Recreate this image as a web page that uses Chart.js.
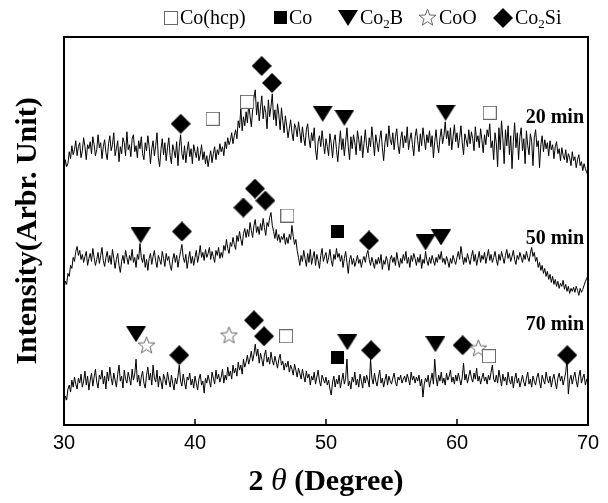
<!DOCTYPE html>
<html>
<head>
<meta charset="utf-8">
<script src="https://cdn.jsdelivr.net/npm/chart.js@4.4.1/dist/chart.umd.min.js"></script>
<style>
  html, body { margin: 0; padding: 0; background: #fff; }
  #wrap { position: relative; width: 608px; height: 503px; }
  .item { position: absolute; top: 6px; display: flex; align-items: center; font: 20px "Liberation Serif", serif; color: #000; white-space: nowrap; }
  .item img { margin-right: 2px; }
  .item sub { font-size: 13px; vertical-align: -4px; line-height: 0; }
</style>
</head>
<body>
<div id="wrap">
  <canvas id="xrd-chart" width="608" height="503"></canvas>
  <div id="legend"></div>
</div>
<script>
const twoThetaStart = 30;
const twoThetaStep = 0.1;

// 20 min, 30.0 .. 70.0 deg, one degree per row
const intensity20 = [
  253, 266, 259, 262, 274, 267, 280, 271, 276, 285,
  270, 279, 283, 268, 275, 288, 279, 266, 281, 277,
  284, 272, 289, 281, 270, 276, 291, 278, 283, 267,
  279, 286, 273, 266, 282, 290, 275, 281, 293, 270,
  277, 285, 264, 279, 272, 288, 283, 270, 294, 276,
  281, 269, 287, 291, 274, 280, 268, 285, 277, 289,
  272, 266, 283, 275, 290, 279, 262, 277, 285, 270,
  280, 293, 268, 259, 276, 287, 271, 283, 265, 278,
  288, 270, 262, 281, 275, 268, 284, 260, 279, 291,
  272, 266, 280, 263, 275, 284, 269, 277, 262, 281,
  274, 268, 279, 265, 271, 281, 266, 274, 262, 270,
  259, 268, 275, 263, 272, 279, 266, 276, 271, 282,
  274, 279, 270, 284, 277, 288, 281, 285, 293, 282,
  290, 296, 287, 305, 298, 318, 295, 309, 300, 314,
  303, 322, 310, 299, 316, 328, 336, 311, 324, 305,
  318, 330, 307, 320, 313, 297, 326, 309, 319, 332,
  306, 316, 300, 322, 311, 296, 318, 305, 293, 310,
  300, 288, 297, 306, 293, 285, 302, 298, 289, 304,
  294, 283, 299, 288, 280, 296, 302, 287, 278, 293,
  285, 298, 276, 266, 284, 290, 279, 295, 283, 272,
  287, 279, 270, 292, 282, 268, 285, 291, 276, 264,
  281, 295, 276, 287, 270, 284, 298, 279, 266, 289,
  277, 291, 283, 271, 295, 286, 275, 290, 268, 282,
  296, 280, 273, 288, 279, 299, 285, 270, 291, 283,
  274, 287, 295, 278, 265, 283, 292, 279, 300, 286,
  281, 293, 276, 289, 297, 280, 272, 287, 294, 278,
  290, 283, 299, 276, 286, 293, 281, 270, 289, 297,
  285, 274, 292, 280, 298, 287, 276, 291, 283, 295,
  279, 290, 268, 284, 296, 281, 273, 288, 297, 282,
  290, 304, 287, 295, 280, 298, 276, 289, 301, 284,
  293, 278, 288, 300, 283, 271, 292, 286, 279, 296,
  282, 294, 287, 275, 299, 284, 290, 278, 297, 286,
  273, 291, 281, 296, 289, 302, 278, 285, 266, 293,
  283, 259, 298, 276, 305, 287, 262, 296, 280, 300,
  271, 290, 257, 284, 303, 278, 293, 266, 289, 298,
  275, 287, 262, 295, 280, 271, 292, 284, 260, 288,
  296, 279, 285, 258, 281, 290, 274, 286, 277, 283,
  270, 285, 276, 281, 267, 279, 284, 272, 277, 265,
  278, 270, 266, 276, 263, 272, 268, 260, 274, 265,
  269, 258, 266, 271, 260, 264, 255, 262, 257, 253,
  250
];

// 50 min
const intensity50 = [
  136, 144, 141, 152, 149, 160, 157, 168, 164, 174,
  179, 170, 175, 166, 171, 163, 169, 174, 160, 167,
  172, 164, 177, 168, 160, 166, 173, 162, 170, 178,
  165, 159, 168, 174, 163, 170, 161, 176, 167, 157,
  166, 172, 160, 153, 164, 170, 162, 175, 168, 161,
  170, 165, 176, 163, 168, 158, 171, 166, 182, 168,
  163, 171, 158, 166, 155, 167, 172, 161, 169, 175,
  164, 158, 170, 166, 161, 174, 167, 159, 172, 165,
  169, 160, 155, 166, 172, 163, 170, 158, 167, 174,
  181, 168, 163, 171, 157, 166, 174, 162, 169, 160,
  168, 175, 163, 170, 180, 168, 173, 165, 176, 168,
  172, 178, 166, 174, 169, 163, 175, 170, 178, 167,
  173, 168, 180, 175, 186, 177, 172, 183, 179, 188,
  181, 176, 190, 184, 194, 186, 180, 192, 197, 188,
  196, 189, 203, 195, 188, 200, 206, 193, 199, 191,
  202, 195, 207, 198, 190, 203, 199, 208, 213, 200,
  194, 187, 196, 185, 191, 183, 189, 186, 192, 181,
  188, 182, 191, 186, 200, 189, 181, 186, 175, 168,
  160, 170, 164, 175, 167, 159, 172, 163, 176, 161,
  168, 174, 160, 171, 165, 157, 170, 177, 164, 169,
  173, 162, 168, 176, 165, 159, 171, 166, 177, 168,
  172, 164, 170, 158, 167, 174, 163, 152, 166, 170,
  161, 167, 159, 164, 170, 162, 166, 158, 165, 169,
  163, 171, 175, 166, 160, 168, 163, 157, 166, 161,
  168, 162, 171, 156, 165, 161, 169, 164, 155, 166,
  170, 163, 168, 160, 173, 165, 158, 167, 162, 171,
  165, 174, 162, 168, 158, 170, 164, 172, 167, 160,
  168, 163, 171, 157, 166, 162, 174, 165, 160, 168,
  162, 170, 165, 160, 168, 163, 171, 166, 174, 163,
  167, 161, 169, 164, 158, 167, 162, 170, 165, 161,
  168, 174, 166, 179, 170, 161, 168, 163, 172, 166,
  161, 169, 175, 164, 171, 160, 167, 174, 163, 170,
  166, 173, 162, 169, 176, 165, 171, 163, 168, 174,
  166, 160, 171, 165, 174, 168, 162, 170, 176, 167,
  172, 164, 169, 175, 166, 161, 170, 166, 173, 168,
  163, 171, 166, 174, 168, 164, 172, 178, 169, 173,
  164, 168, 158, 163, 155, 160, 152, 157, 149, 154,
  146, 151, 143, 149, 141, 146, 139, 144, 137, 142,
  139, 145, 136, 141, 134, 139, 132, 137, 134, 138,
  133, 139, 135, 130, 137, 133, 136, 140, 144, 147,
  150
];

// 70 min
const intensity70 = [
  20, 29, 25, 36, 40, 33, 45, 38, 48, 41,
  36, 47, 42, 51, 38, 44, 54, 40, 49, 35,
  45, 52, 39, 48, 56, 43, 37, 50, 46, 55,
  41, 49, 36, 53, 44, 58, 47, 40, 52, 45,
  38, 51, 60, 44, 49, 37, 55, 46, 42, 53,
  47, 40, 56, 45, 51, 66, 43, 50, 39, 48,
  54, 42, 37, 50, 58, 45, 52, 40, 60, 47,
  43, 55, 38, 49, 44, 36, 51, 46, 40, 53,
  45, 38, 50, 42, 35, 47, 41, 49, 60, 44,
  39, 51, 43, 36, 48, 45, 52, 40, 46, 37,
  49, 42, 35, 46, 51, 40, 44, 32, 47, 42,
  50, 44, 38, 53, 47, 41, 55, 46, 51, 43,
  48, 56, 42, 50, 45, 58, 49, 54, 46, 60,
  52, 57, 49, 63, 55, 60, 51, 66, 58, 63,
  70, 61, 67, 74, 64, 71, 81, 69, 76, 62,
  72, 66, 59, 70, 75, 63, 68, 61, 73, 65,
  60, 69, 63, 57, 66, 71, 60, 64, 55, 62,
  58, 64, 53, 60, 56, 50, 61, 55, 48, 57,
  52, 46, 56, 49, 43, 54, 47, 51, 40, 49,
  45, 53, 41, 48, 55, 44, 39, 50, 46, 42,
  48, 40, 45, 36, 30, 43, 49, 38, 46, 41,
  50, 37, 45, 52, 41, 47, 66, 39, 44, 36,
  48, 43, 53, 40, 46, 38, 51, 44, 37, 49,
  42, 50, 45, 38, 66, 47, 41, 52, 44, 39,
  48, 55, 42, 47, 38, 45, 51, 40, 49, 44,
  41, 47, 52, 43, 39, 48, 45, 50, 42, 46,
  49, 43, 51, 46, 40, 53, 45, 49, 42, 48,
  44, 50, 39, 46, 28, 41, 47, 43, 50, 38,
  45, 52, 41, 66, 48, 39, 50, 44, 53, 42,
  47, 40, 52, 45, 49, 55, 43, 48, 41, 50,
  44, 52, 46, 40, 48, 62, 45, 51, 42, 49,
  55, 47, 43, 52, 46, 57, 44, 49, 41, 47,
  52, 44, 48, 41, 50, 45, 53, 60, 46, 43,
  50, 42, 55, 47, 39, 51, 44, 48, 40, 53,
  45, 41, 49, 37, 46, 52, 42, 47, 38, 44,
  50, 43, 39, 47, 53, 41, 46, 38, 49, 44,
  40, 48, 52, 43, 37, 50, 45, 41, 53, 46,
  42, 49, 38, 46, 51, 43, 36, 47, 52, 44,
  49, 40, 46, 53, 66, 31, 45, 50, 41, 48,
  53, 44, 38, 49, 55, 42, 47, 51, 40, 46,
  45
];

// phase markers: 2-theta and height above the trace
const hcpAngles = [41.35, 43.97, 62.5, 47.05, 46.95, 62.44];
const hcpHeights = [307, 324, 313, 210, 89, 69];
const coAngles = [50.9, 50.86];
const coHeights = [194, 68];
const co2bAngles = [49.75, 51.4, 59.13, 35.85, 57.6, 58.78, 35.5, 51.63, 58.35];
const co2bHeights = [312, 308, 313, 190, 183, 188, 91, 83, 81];
const cooAngles = [36.3, 42.6, 61.63];
const cooHeights = [80, 90, 77];
const co2siAngles = [38.91, 45.09, 45.88, 39.0, 43.69, 44.58, 45.37, 53.28, 38.8, 44.5, 45.27, 53.44, 60.43, 68.42];
const co2siHeights = [302, 360, 343, 194, 218, 237, 225, 185, 70, 105, 89, 75, 80, 70];

const sampleLabels = ['20 min', '50 min', '70 min'];
const sampleLabelHeights = [308, 187, 100];

const phaseNames = ['Co(hcp)', 'Co', 'Co<sub>2</sub>B', 'CoO', 'Co<sub>2</sub>Si'];
const legendLeft = [164, 274, 338, 418, 493];

// small marker bitmaps used both on the plot and in the legend
function makeIcon(w, h, draw) {
  const c = document.createElement('canvas');
  c.width = w;
  c.height = h;
  draw(c.getContext('2d'), w, h);
  return c;
}
const iconDrawers = [
  () => makeIcon(14, 14, g => {
    g.fillStyle = '#fff';
    g.fillRect(0.5, 0.5, 13, 13);
    g.strokeStyle = '#6a6a6a';
    g.lineWidth = 1;
    g.strokeRect(0.5, 0.5, 13, 13);
  }),
  () => makeIcon(13, 13, g => {
    g.fillStyle = '#000';
    g.fillRect(0, 0, 13, 13);
  }),
  () => makeIcon(20, 16, g => {
    g.fillStyle = '#000';
    g.beginPath();
    g.moveTo(0, 0);
    g.lineTo(20, 0);
    g.lineTo(10, 16);
    g.closePath();
    g.fill();
  }),
  () => makeIcon(19, 19, g => {
    g.beginPath();
    for (let k = 0; k < 10; k++) {
      const r = k % 2 === 0 ? 8.8 : 3.7;
      const a = -Math.PI / 2 + k * Math.PI / 5;
      const px = 9.5 + r * Math.cos(a), py = 10 + r * Math.sin(a);
      k === 0 ? g.moveTo(px, py) : g.lineTo(px, py);
    }
    g.closePath();
    g.fillStyle = '#fff';
    g.fill();
    g.strokeStyle = '#555';
    g.lineWidth = 0.9;
    g.stroke();
  }),
  () => makeIcon(20, 20, g => {
    g.fillStyle = '#000';
    g.beginPath();
    g.moveTo(10, 0);
    g.lineTo(20, 10);
    g.lineTo(10, 20);
    g.lineTo(0, 10);
    g.closePath();
    g.fill();
  })
];

const legendBox = document.getElementById('legend');
phaseNames.forEach((name, i) => {
  const item = document.createElement('span');
  item.className = 'item';
  item.style.left = legendLeft[i] + 'px';
  const img = document.createElement('img');
  img.src = iconDrawers[i]().toDataURL();
  item.appendChild(img);
  const label = document.createElement('span');
  label.innerHTML = name;
  item.appendChild(label);
  legendBox.appendChild(item);
});

const toPoints = vals => vals.map((v, i) => ({ x: +(twoThetaStart + i * twoThetaStep).toFixed(1), y: v }));
const toMarks = (angles, heights) => angles.map((a, i) => ({ x: a, y: heights[i] }));

const trace = (label, vals) => ({
  type: 'line',
  label,
  data: toPoints(vals),
  borderColor: '#000',
  borderWidth: 1,
  pointRadius: 0,
  tension: 0,
  order: 1
});
const marks = (label, angles, heights, i) => ({
  type: 'scatter',
  label,
  data: toMarks(angles, heights),
  pointStyle: iconDrawers[i](),
  showLine: false,
  order: 0
});

const framePlugin = {
  id: 'frame',
  afterDatasetsDraw(chart) {
    const { ctx, chartArea: a, scales: { x, y } } = chart;
    ctx.save();
    ctx.strokeStyle = '#000';
    ctx.lineWidth = 2;
    ctx.strokeRect(a.left, a.top, a.right - a.left, a.bottom - a.top);

    // tick marks point into the plot
    ctx.lineWidth = 1.5;
    x.ticks.forEach(t => {
      const px = x.getPixelForValue(t.value);
      ctx.beginPath();
      ctx.moveTo(px, a.bottom);
      ctx.lineTo(px, a.bottom - 6);
      ctx.stroke();
    });

    ctx.fillStyle = '#000';
    ctx.font = 'bold 20px "Liberation Serif"';
    ctx.textAlign = 'right';
    ctx.textBaseline = 'middle';
    sampleLabels.forEach((s, i) => {
      ctx.fillText(s, a.right - 4, y.getPixelForValue(sampleLabelHeights[i]));
    });

    // x title with an italic theta
    const parts = [
      ['2 ', 'bold 30px "Liberation Serif"'],
      ['\u03B8', 'italic 32px "Liberation Serif"'],
      [' (Degree)', 'bold 30px "Liberation Serif"']
    ];
    let total = 0;
    parts.forEach(p => { ctx.font = p[1]; total += ctx.measureText(p[0]).width; });
    let cx = (a.left + a.right) / 2 - total / 2;
    ctx.textAlign = 'left';
    ctx.textBaseline = 'alphabetic';
    parts.forEach(p => {
      ctx.font = p[1];
      ctx.fillText(p[0], cx, 490);
      cx += ctx.measureText(p[0]).width;
    });
    ctx.restore();
  }
};

new Chart(document.getElementById('xrd-chart'), {
  data: {
    datasets: [
      marks('Co(hcp)', hcpAngles, hcpHeights, 0),
      marks('Co', coAngles, coHeights, 1),
      marks('Co2B', co2bAngles, co2bHeights, 2),
      marks('CoO', cooAngles, cooHeights, 3),
      marks('Co2Si', co2siAngles, co2siHeights, 4),
      trace('20 min', intensity20),
      trace('50 min', intensity50),
      trace('70 min', intensity70)
    ]
  },
  options: {
    responsive: false,
    animation: false,
    events: [],
    layout: { padding: { top: 37, right: 20, left: 0, bottom: 0 } },
    plugins: { legend: { display: false }, tooltip: { enabled: false } },
    scales: {
      x: {
        type: 'linear',
        min: 30,
        max: 70,
        ticks: {
          stepSize: 10,
          color: '#000',
          padding: 6,
          maxRotation: 0,
          font: { family: 'Liberation Sans', size: 20 }
        },
        grid: { display: false, drawTicks: false },
        border: { display: false },
        afterFit(scale) { scale.height = 78; }
      },
      y: {
        min: 0,
        max: 389,
        ticks: { display: false },
        grid: { display: false },
        border: { display: false },
        title: {
          display: true,
          text: 'Intensity(Arbr. Unit)',
          color: '#000',
          padding: { top: 10, bottom: 0 },
          font: { family: 'Liberation Serif', size: 30, weight: 'bold' }
        },
        afterFit(scale) { scale.width = 64; }
      }
    }
  },
  plugins: [framePlugin]
});
</script>
</body>
</html>
